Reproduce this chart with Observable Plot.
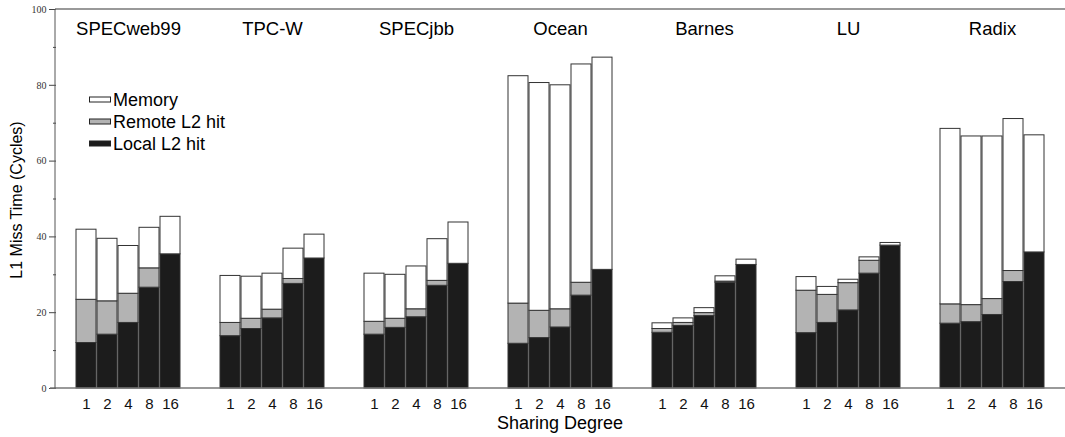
<!DOCTYPE html>
<html><head><meta charset="utf-8">
<script src="https://cdn.jsdelivr.net/npm/d3@7"></script>
<script src="https://cdn.jsdelivr.net/npm/@observablehq/plot@0.6"></script>
<style>body{margin:0;background:#fff;} svg{display:block;}</style>
</head><body><div id="chart"></div>
<script>
const workloads = ["SPECweb99","TPC-W","SPECjbb","Ocean","Barnes","LU","Radix"];
const degrees = ["1","2","4","8","16"];
const series = ["Local L2 hit","Remote L2 hit","Memory"];
const legendOrder = ["Memory","Remote L2 hit","Local L2 hit"];
const yTicks = [0,20,40,60,80,100];
const yMinorTicks = [10,30,50,70,90];

// segment heights (cycles), one row per workload, one value per sharing degree
const localHit = [
  [12.0,14.2,17.3,26.6,35.4],
  [13.8,15.7,18.5,27.6,34.3],
  [14.2,16.0,18.8,27.1,32.9],
  [11.8,13.3,16.1,24.5,31.3],
  [14.7,16.5,19.1,27.9,32.6],
  [14.6,17.3,20.6,30.3,37.7],
  [17.1,17.5,19.4,28.1,35.9]
];
const remoteHit = [
  [11.4,8.8,7.7,5.1,0],
  [3.5,2.7,2.3,1.3,0],
  [3.4,2.4,2.1,1.3,0],
  [10.6,7.2,4.8,3.4,0],
  [1.0,0.8,0.8,0.3,0],
  [11.2,7.4,7.2,3.4,0],
  [5.1,4.5,4.2,2.9,0]
];
const memory = [
  [18.5,16.5,12.6,10.7,9.9],
  [12.4,11.1,9.5,8.0,6.3],
  [12.7,11.6,11.3,11.0,10.9],
  [60.0,60.1,59.1,57.6,56.0],
  [1.5,1.2,1.3,1.4,1.4],
  [3.6,2.1,0.9,0.9,0.7],
  [46.3,44.5,42.9,40.1,30.9]
];

const colors = {"Local L2 hit":"#1c1c1c","Remote L2 hit":"#b3b3b3","Memory":"#ffffff"};
const seriesData = {"Local L2 hit":localHit,"Remote L2 hit":remoteHit,"Memory":memory};

const rows = [];
workloads.forEach((w,i)=>{
  degrees.forEach((d,j)=>{
    series.forEach(s=>{
      rows.push({workload:w, degree:d, series:s, value:seriesData[s][i][j]});
    });
  });
});

const W = 1065, H = 437, ML = 55, MT = 9, MB = 49;
const SANS = "'Liberation Sans', Arial, sans-serif";

const plot = Plot.plot({
  width: W, height: H,
  marginLeft: ML, marginRight: 0, marginTop: MT, marginBottom: MB,
  style: {fontFamily: SANS, background: "#fff"},
  fx: {domain: workloads, paddingInner: 0, paddingOuter: 0, axis: null, label: null},
  x: {domain: degrees, paddingInner: 0.07, paddingOuter: 0.89, label: null},
  y: {domain: [0,100], label: null, axis: null},
  color: {domain: series, range: series.map(s=>colors[s])},
  marks: [
    Plot.barY(rows, {fx:"workload", x:"degree", y:"value", fill:"series", order: series,
      stroke:"#333", strokeWidth:1}),
    Plot.text(workloads, {fx: d=>d, text: d=>d, frameAnchor:"top", dy: 12, fontSize: 18.5, fill:"#000"}),
    Plot.axisX({tickSize:0, tickPadding:10, fontSize:15, label:null, fill:"#111"}),
    Plot.axisY({ticks: yTicks, tickSize:7, tickPadding:3, fontSize:10, fontFamily:"'Liberation Serif', serif", label:null, stroke:"#444", strokeWidth:1, strokeOpacity:1, fill:"#333"}),
    Plot.axisY({ticks: yMinorTicks, tickSize:3, tickFormat: ()=>"", label:null, stroke:"#444", strokeWidth:1, strokeOpacity:1})
  ]
});

document.getElementById("chart").appendChild(plot);

const y = plot.scale("y");
const svg = d3.select(plot);
const g = svg.append("g");
// frame lines
g.append("line").attr("x1", ML).attr("x2", W).attr("y1", y.apply(100)).attr("y2", y.apply(100)).attr("stroke","#777").attr("stroke-width",1.5);
g.append("line").attr("x1", ML-5).attr("x2", W).attr("y1", y.apply(0)).attr("y2", y.apply(0)).attr("stroke","#777").attr("stroke-width",1.5);
g.append("line").attr("x1", ML).attr("x2", ML).attr("y1", y.apply(0)).attr("y2", y.apply(100)).attr("stroke","#555").attr("stroke-width",1);

// axis titles
g.append("text").attr("transform","translate(22,200) rotate(-90)").attr("text-anchor","middle")
  .attr("font-size",16).attr("font-family",SANS).text("L1 Miss Time (Cycles)");
g.append("text").attr("x", (ML+W)/2).attr("y", 429).attr("text-anchor","middle")
  .attr("font-size",18).attr("font-family",SANS).text("Sharing Degree");

// legend
const lg = g.append("g").attr("font-family",SANS).attr("font-size",18).attr("text-anchor","start");
legendOrder.forEach((s,i)=>{
  const cy = 99.5 + i*22;
  lg.append("rect").attr("x",89.5).attr("y",cy-2.5).attr("width",21).attr("height",5)
    .attr("fill",colors[s]).attr("stroke","#222").attr("stroke-width",1);
  lg.append("text").attr("x",113).attr("y",cy).attr("dy","0.35em").text(s);
});
</script>
</body></html>
